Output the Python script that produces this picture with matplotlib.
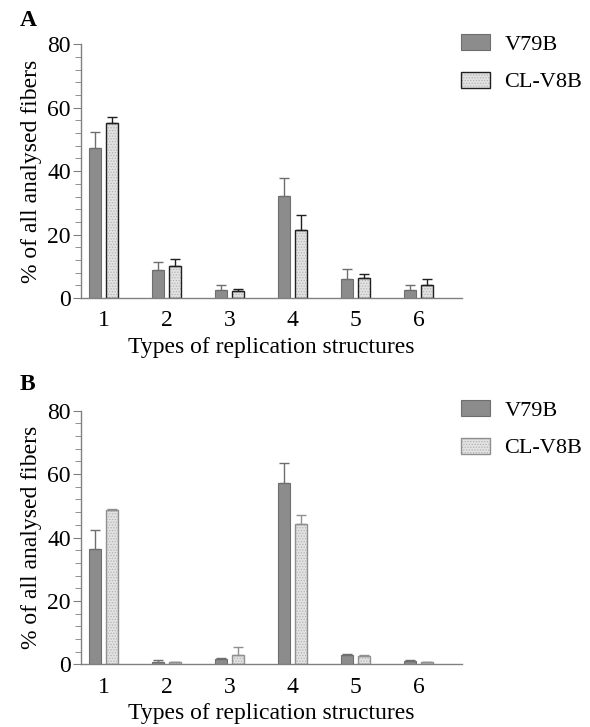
import numpy as np
import matplotlib
matplotlib.use("Agg")
import matplotlib.pyplot as plt
from matplotlib.ticker import MultipleLocator
from matplotlib.legend_handler import HandlerTuple

plt.rcParams['font.family'] = ['Liberation Serif', 'DejaVu Serif']
plt.rcParams['hatch.linewidth'] = 0.6

categories = ['1', '2', '3', '4', '5', '6']
series = ['V79B', 'CL-V8B']

# panel A
a_v79b = [47.3, 8.8, 2.4, 32.3, 6.1, 2.5]
a_v79b_err = [5.1, 2.6, 1.6, 5.6, 2.9, 1.6]
a_clv8b = [55.2, 10.2, 2.3, 21.4, 6.2, 4.2]
a_clv8b_err = [2.0, 2.1, 0.5, 4.9, 1.4, 1.8]

# panel B
b_v79b = [36.3, 0.85, 1.7, 57.1, 2.95, 1.16]
b_v79b_err = [6.0, 0.55, 0.4, 6.3, 0.25, 0.35]
b_clv8b = [48.7, 0.6, 3.0, 44.2, 2.5, 0.6]
b_clv8b_err = [0.4, 0.25, 2.6, 2.8, 0.3, 0.1]

W, H = 590, 727
fig = plt.figure(figsize=(W / 100, H / 100), dpi=100)

dark_fill = '#8c8c8c'
dark_edge = '#6e6e6e'
light_fill = '#e2e2e2'


def panel(rect, v1, e1, v2, e2, light_edge, letter, letter_y, leg_y):
    ax = fig.add_axes(rect)
    x = np.arange(1, len(categories) + 1)
    w = 0.185
    b1 = ax.bar(x - 0.135, v1, w, color=dark_fill, edgecolor=dark_edge, linewidth=0.8,
                yerr=[np.zeros(len(e1)), e1],
                error_kw=dict(ecolor=dark_edge, elinewidth=1.0, capsize=3.5, capthick=1.0))
    # hatched fill, then outline on top
    b2 = ax.bar(x + 0.135, v2, w, color=light_fill, edgecolor='#b4b4b4', linewidth=0, hatch='......')
    b3 = ax.bar(x + 0.135, v2, w, fill=False, edgecolor=light_edge, linewidth=1.0,
                yerr=[np.zeros(len(e2)), e2],
                error_kw=dict(ecolor=light_edge, elinewidth=1.0, capsize=3.5, capthick=1.0))
    ax.set_xlim(0.64, 6.69)
    ax.set_ylim(0, 80)
    ax.set_xticks(x)
    ax.set_xticklabels(categories)
    ax.yaxis.set_major_locator(MultipleLocator(20))
    ax.yaxis.set_minor_locator(MultipleLocator(4))
    for s in ['top', 'right']:
        ax.spines[s].set_visible(False)
    for s in ['left', 'bottom']:
        ax.spines[s].set_color('#808080')
        ax.spines[s].set_linewidth(1.0)
    ax.tick_params(axis='x', length=0, labelsize=17, pad=9)
    ax.tick_params(axis='y', which='major', length=6, color='#808080', labelsize=17, pad=1)
    ax.tick_params(axis='y', which='minor', length=4, color='#808080')
    ax.set_xlabel('Types of replication structures', fontsize=17, labelpad=4)
    ax.set_ylabel('% of all analysed fibers', fontsize=17, labelpad=4)
    fig.text(20 / W, letter_y, letter, fontsize=17, fontweight='bold')
    fig.legend([b1.patches[0], (b2.patches[0], b3.patches[0])], series,
               handler_map={tuple: HandlerTuple(ndivide=1, pad=0)},
               loc='upper left', bbox_to_anchor=(461 / W, leg_y), borderaxespad=0, borderpad=0,
               frameon=False, fontsize=16, handlelength=1.3, handleheight=0.75,
               labelspacing=0.75, handletextpad=0.65)
    return ax


panel([80.7 / W, 1 - 298 / H, (462 - 80.7) / W, (298 - 44.3) / H],
      a_v79b, a_v79b_err, a_clv8b, a_clv8b_err, '#202020', 'A', 1 - 26 / H, 1 - 34 / H)
panel([80.7 / W, 1 - 664.3 / H, (462 - 80.7) / W, (664.3 - 410.7) / H],
      b_v79b, b_v79b_err, b_clv8b, b_clv8b_err, '#909090', 'B', 1 - 390 / H, 1 - 400 / H)

fig.savefig('out.png', dpi=100)
